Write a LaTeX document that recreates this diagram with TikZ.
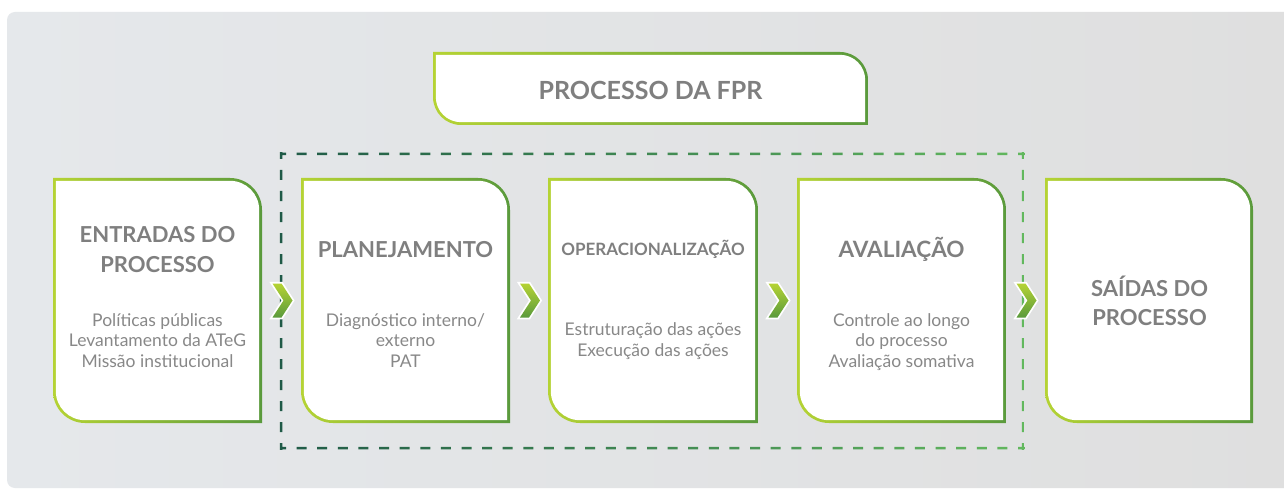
\documentclass[tikz,border=0pt]{standalone}
\usepackage{fontspec}
\setmainfont{Lato}
\usetikzlibrary{calc}
\definecolor{bgl}{HTML}{E5E8EB}
\definecolor{bgr}{HTML}{DFDFDF}
\definecolor{gl}{HTML}{B5D334}
\definecolor{gd}{HTML}{5A9A3C}
\definecolor{dl}{HTML}{1F5A47}
\definecolor{dr}{HTML}{62B85E}
\definecolor{tgray}{HTML}{7F7F7F}
\definecolor{bgray}{HTML}{888888}
\newcommand\gbox[6]{%
 \shade[left color=gl,right color=gd] (#2,#3) -- ({#4-#6},#3) arc[start angle=-90,end angle=0,radius=#6] -- (#4,#5) -- ({#2+#6},#5) arc[start angle=90,end angle=180,radius=#6] -- cycle;
 \fill[white] ({#2+2.8},{#3+2.8}) -- ({#4-#6},{#3+2.8}) arc[start angle=-90,end angle=0,radius={#6-2.8}] -- ({#4-2.8},{#5-2.8}) -- ({#2+#6},{#5-2.8}) arc[start angle=90,end angle=180,radius={#6-2.8}] -- cycle;
 \coordinate (#1) at ({(#2+#4)/2},{(#3+#5)/2});
 \coordinate (#1-w) at (#2,{(#3+#5)/2});
 \coordinate (#1-e) at (#4,{(#3+#5)/2});
}
\tikzset{
 ttl/.style={anchor=base, inner sep=0pt, text=tgray, font=\bfseries\fontsize{22}{26}\selectfont},
 bdy/.style={anchor=base, inner sep=0pt, text=bgray, font=\fontsize{17.5}{21}\selectfont},
 chev/.pic={
  \draw[white, line width=3.5pt, line join=miter] (-9,-17) -- (0,-17) -- (11,0) -- (0,17) -- (-9,17) -- (2,0) -- cycle;
  \shade[top color=gl, bottom color=gd] (-9,-17) -- (0,-17) -- (11,0) -- (0,17) -- (-9,17) -- (2,0) -- cycle;
 }
}
\begin{document}
\begin{tikzpicture}[x=1pt,y=-1pt]
\useasboundingbox (0,0) rectangle (1284,489);
\fill[white] (0,0) rectangle (1284,489);
\begin{scope}
\clip (0,0) rectangle (1284,489);
\shade[left color=bgl, right color=bgr, rounded corners=8pt] (7,12) rectangle (1300,488);
\end{scope}
% dashed frame with gradient
\begin{scope}
\clip (279.75,152.75) rectangle (1024.25,449.25);
\path[clip] \foreach \k in {0,...,36} { ({281+\k*20.6111-5},152.75) rectangle ++(10,2.5) ({281+\k*20.6111-5},446.75) rectangle ++(10,2.5) } \foreach \k in {0,...,14} { (279.75,{154+\k*21-5}) rectangle ++(2.5,10) (1021.75,{154+\k*21-5}) rectangle ++(2.5,10) };
\shade[left color=dl, right color=dr] (279,152) rectangle (1025,450);
\end{scope}
% boxes
\gbox{top}{433}{52}{868}{125}{28}
\gbox{ent}{53}{178}{262}{423}{32}
\gbox{plan}{301}{178}{510}{423}{32}
\gbox{oper}{548}{178}{758}{423}{32}
\gbox{aval}{797}{178}{1006}{423}{32}
\gbox{sai}{1045}{178}{1253}{423}{32}
% chevrons
\pic at ($(ent-e)!0.5!(plan-w)$) {chev};
\pic at ($(plan-e)!0.5!(oper-w)$) {chev};
\pic at ($(oper-e)!0.5!(aval-w)$) {chev};
\pic at ($(aval-e)!0.5!(sai-w)$) {chev};
% texts
\node[ttl, font=\bfseries\fontsize{25}{29}\selectfont] (ttop) at (650.5,99.3) {PROCESSO DA FPR};
\node[ttl] (tent1) at (157.5,242) {ENTRADAS DO};
\node[ttl] (tent2) at (157.5,272) {PROCESSO};
\node[bdy] (bent1) at (157.5,326) {Políticas públicas};
\node[bdy] (bent2) at (157.5,346.5) {Levantamento da ATeG};
\node[bdy] (bent3) at (157.5,367) {Missão institucional};
\node[ttl] (tplan) at (405.5,257) {PLANEJAMENTO};
\node[bdy] (bplan1) at (405.5,326) {Diagnóstico interno/};
\node[bdy] (bplan2) at (405.5,346.5) {externo};
\node[bdy] (bplan3) at (405.5,367) {PAT};
\node[ttl, font=\bfseries\fontsize{17}{20}\selectfont] (toper) at (653,255) {OPERACIONALIZAÇÃO};
\node[bdy] (boper1) at (653,335) {Estruturação das ações};
\node[bdy] (boper2) at (653,356) {Execução das ações};
\node[ttl, font=\bfseries\fontsize{22.5}{26}\selectfont] (taval) at (901.5,257) {AVALIAÇÃO};
\node[bdy] (baval1) at (901.5,326) {Controle ao longo};
\node[bdy] (baval2) at (901.5,346.5) {do processo};
\node[bdy] (baval3) at (901.5,367) {Avaliação somativa};
\node[ttl] (tsai1) at (1149.5,296) {SAÍDAS DO};
\node[ttl] (tsai2) at (1149.5,325) {PROCESSO};
\end{tikzpicture}
\end{document}
